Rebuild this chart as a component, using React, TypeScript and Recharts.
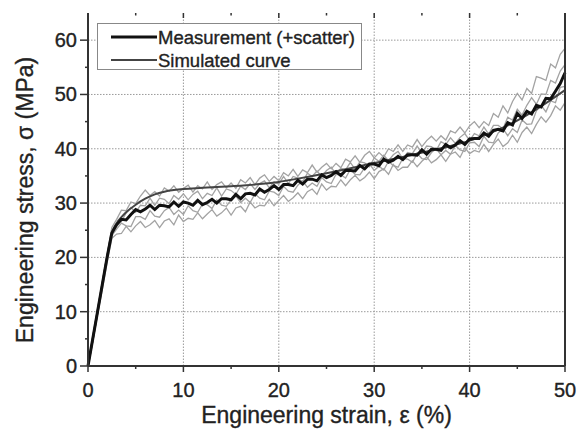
import React from 'react';
import { LineChart, Line, XAxis, YAxis, ReferenceLine } from 'recharts';

const strain = [0, 0.5, 1, 1.5, 2, 2.5, 3, 3.5, 4, 4.5, 5, 5.5, 6, 6.5, 7, 7.5, 8, 8.5, 9, 9.5, 10, 10.5, 11, 11.5, 12, 12.5, 13, 13.5, 14, 14.5, 15, 15.5, 16, 16.5, 17, 17.5, 18, 18.5, 19, 19.5, 20, 20.5, 21, 21.5, 22, 22.5, 23, 23.5, 24, 24.5, 25, 25.5, 26, 26.5, 27, 27.5, 28, 28.5, 29, 29.5, 30, 30.5, 31, 31.5, 32, 32.5, 33, 33.5, 34, 34.5, 35, 35.5, 36, 36.5, 37, 37.5, 38, 38.5, 39, 39.5, 40, 40.5, 41, 41.5, 42, 42.5, 43, 43.5, 44, 44.5, 45, 45.5, 46, 46.5, 47, 47.5, 48, 48.5, 49, 49.5, 50];

const measurement = [0, 5, 10, 15, 20, 24.5,
  26.0, 27.0, 26.9, 27.9, 28.8, 28.4, 28.9, 29.6, 28.8, 29.6,
  29.5, 29.3, 30.2, 29.4, 30.2, 30.0, 29.6, 30.5, 29.7, 30.1,
  30.7, 30.0, 30.8, 30.8, 30.6, 31.6, 30.8, 31.7, 31.8, 31.5,
  32.6, 32.0, 32.5, 33.2, 32.5, 33.4, 33.4, 33.2, 34.2, 33.5,
  34.4, 34.4, 34.1, 35.2, 34.7, 35.1, 35.8, 35.1, 36.0, 36.0,
  35.9, 36.9, 36.3, 37.2, 37.2, 36.9, 38.1, 37.5, 37.9, 38.6,
  38.0, 38.9, 38.9, 38.8, 39.8, 39.0, 39.9, 39.9, 39.7, 40.8,
  40.2, 40.7, 41.5, 40.8, 41.8, 41.9, 41.9, 42.9, 42.3, 43.4,
  43.6, 43.3, 44.8, 44.4, 46.5, 45.6, 46.9, 46.4, 48.0, 47.7,
  49.3, 49.2, 50.6, 52.0, 54.0];

const scatter1 = [0, 5.5, 10.5, 15.5, 20.5, 25.5,
  27.0, 28.7, 28.6, 30.2, 29.9, 31.3, 32.4, 31.4, 32.1, 31.3,
  32.8, 32.2, 33.2, 32.0, 32.7, 33.3, 32.0, 33.2, 32.6, 33.9,
  32.5, 33.4, 33.9, 32.8, 33.7, 32.7, 34.3, 33.7, 34.7, 33.4,
  34.6, 35.2, 34.0, 34.9, 34.1, 35.6, 35.0, 36.2, 34.9, 36.1,
  35.6, 37.0, 35.7, 36.6, 37.3, 36.3, 37.3, 36.5, 38.1, 37.6,
  38.7, 37.5, 38.8, 39.5, 38.3, 39.3, 38.5, 40.0, 39.5, 40.7,
  39.5, 40.7, 40.3, 41.7, 40.4, 41.5, 42.3, 41.4, 42.4, 41.6,
  43.3, 42.9, 44.0, 42.9, 44.2, 45.0, 43.9, 45.0, 44.3, 46.5,
  45.8, 47.9, 46.6, 48.7, 50.2, 49.0, 51.1, 50.2, 53.3, 53.0,
  52.6, 55.6, 54.9, 57.4, 58.5];

const scatter2 = [0, 5, 10, 15, 20, 24.5,
  26.3, 26.6, 28.2, 29.2, 28.3, 29.6, 29.5, 30.9, 29.6, 30.9,
  30.7, 29.9, 31.4, 30.7, 31.7, 30.6, 31.6, 32.2, 30.8, 31.8,
  31.4, 32.8, 31.3, 32.6, 32.3, 31.6, 33.1, 32.5, 33.6, 32.5,
  33.6, 34.1, 32.8, 33.9, 33.5, 34.9, 33.6, 34.9, 34.6, 33.9,
  35.5, 34.9, 35.9, 34.9, 36.0, 36.6, 35.3, 36.4, 36.1, 37.5,
  36.2, 37.6, 37.4, 36.7, 38.3, 37.7, 38.8, 37.8, 38.9, 39.5,
  38.2, 39.3, 39.1, 40.5, 39.2, 40.5, 40.4, 39.7, 41.3, 40.8,
  42.0, 41.0, 42.1, 42.8, 41.5, 42.8, 42.4, 44.0, 42.7, 44.3,
  44.3, 43.7, 45.8, 45.3, 47.3, 46.2, 48.0, 49.4, 48.2, 50.1,
  50.0, 52.6, 52.1, 54.3, 55.5];

const scatter3 = [0, 4.5, 9.5, 14.5, 19.5, 24,
  25.2, 26.3, 25.8, 25.7, 27.5, 27.5, 27.0, 28.6, 27.6, 27.4,
  28.6, 29.2, 27.9, 28.7, 27.9, 29.5, 28.6, 28.3, 29.8, 29.7,
  29.0, 30.6, 29.6, 29.4, 30.6, 31.3, 30.1, 30.9, 30.1, 31.7,
  30.9, 30.6, 32.2, 32.0, 31.4, 33.1, 32.2, 32.0, 33.3, 34.1,
  32.9, 33.7, 33.1, 34.7, 33.9, 33.6, 35.3, 35.2, 34.6, 36.2,
  35.3, 35.2, 36.5, 37.2, 36.0, 36.8, 36.1, 37.7, 36.9, 36.6,
  38.2, 38.1, 37.5, 39.1, 38.2, 38.0, 39.3, 40.0, 38.9, 39.7,
  39.0, 40.6, 39.8, 39.5, 41.1, 41.2, 40.4, 42.3, 41.2, 41.1,
  42.9, 43.7, 42.4, 43.7, 43.0, 45.3, 44.5, 44.6, 47.0, 48.0,
  46.8, 48.8, 48.5, 51.3, 51.5];

const scatter4 = [0, 4.5, 9.5, 14, 19, 23.5,
  24.3, 24.4, 25.7, 24.7, 25.8, 26.6, 25.5, 26.0, 26.8, 25.5,
  26.7, 27.1, 26.0, 27.8, 26.6, 27.2, 27.0, 28.2, 27.1, 28.0,
  28.8, 27.6, 28.2, 29.1, 27.8, 29.1, 29.4, 28.4, 30.2, 29.1,
  29.6, 29.5, 30.7, 29.5, 30.5, 31.4, 30.3, 31.0, 31.9, 30.8,
  32.1, 32.6, 31.6, 33.5, 32.4, 33.1, 33.0, 34.3, 33.2, 34.3,
  35.1, 34.1, 34.7, 35.7, 34.5, 35.8, 36.3, 35.3, 37.1, 36.0,
  36.6, 36.6, 37.8, 36.7, 37.7, 38.5, 37.4, 38.0, 38.9, 37.7,
  39.0, 39.4, 38.4, 40.2, 39.1, 39.7, 39.4, 40.8, 39.5, 40.8,
  41.8, 40.4, 41.1, 42.5, 41.2, 43.0, 44.0, 42.8, 44.5, 45.9,
  44.9, 46.1, 47.9, 47.1, 48.5];

const simStrain = [0, 1, 2, 2.5, 3, 3.5, 4, 5, 6, 7, 8, 9, 10, 12, 15, 18, 20, 22, 25, 28, 30, 32, 35, 38, 40, 42, 44, 46, 48, 50];
const simStress = [0, 10, 20, 24.5, 26.3, 27.4, 28.3, 29.7, 30.8, 31.6, 32.1, 32.4, 32.6, 32.8, 33.1, 33.5, 33.9, 34.5, 35.5, 36.6, 37.4, 38.1, 39.3, 40.5, 41.5, 42.8, 44.3, 46.2, 48.4, 50.8];

const xTicks = [0, 5, 10, 15, 20, 25, 30, 35, 40, 45, 50];
const yTicks = [0, 5, 10, 15, 20, 25, 30, 35, 40, 45, 50, 55, 60];
const topTicks = [5, 10, 15, 20, 25, 30, 35, 40, 45];
const gridX = [10, 20, 30, 40];
const gridY = [10, 20, 30, 40, 50, 60];
const scatterKeys = ['s1', 's2', 's3', 's4'];

const rows = strain.map((x, i) => ({
  x,
  m: measurement[i],
  s1: scatter1[i],
  s2: scatter2[i],
  s3: scatter3[i],
  s4: scatter4[i],
}));
const simRows = simStrain.map((x, i) => ({ x, y: simStress[i] }));

const FONT = '"Liberation Sans", Arial, sans-serif';
const TXT = '#222';
const AX = '#333';
const textStyle = { stroke: TXT, strokeWidth: 0.35 };

const BottomTick = (p: any) => {
  const { x, y, payload } = p;
  const major = payload.value % 10 === 0;
  return (
    <g>
      <line x1={x} x2={x} y1={y} y2={y + (major ? 6 : 3)} stroke={AX} strokeWidth={1.5} />
      {major && (
        <text x={x} y={y + 31} textAnchor="middle" fontSize={20} fill={TXT} fontFamily={FONT} style={textStyle}>
          {payload.value}
        </text>
      )}
    </g>
  );
};

const LeftTick = (p: any) => {
  const { x, y, payload } = p;
  const major = payload.value % 10 === 0;
  return (
    <g>
      <line x1={x - (major ? 8 : 3)} x2={x} y1={y} y2={y} stroke={AX} strokeWidth={1.5} />
      {major && (
        <text x={x - 11} y={y + 7} textAnchor="end" fontSize={20} fill={TXT} fontFamily={FONT} style={textStyle}>
          {payload.value}
        </text>
      )}
    </g>
  );
};

const RightTick = (p: any) => {
  const { x, y, payload } = p;
  const major = payload.value % 10 === 0;
  return <line x1={x - (major ? 7 : 3)} x2={x} y1={y} y2={y} stroke={AX} strokeWidth={1.5} />;
};

const TopTick = (p: any) => {
  const { x, y, payload } = p;
  const major = payload.value % 10 === 0;
  return <line x1={x} x2={x} y1={y} y2={y + (major ? 5 : 2.5)} stroke={AX} strokeWidth={1.5} />;
};

const YTitle = () => (
  <text
    x={25}
    y={200}
    transform="rotate(-90 25 200)"
    textAnchor="middle"
    dominantBaseline="central"
    fontSize={23}
    fill={TXT}
    fontFamily={FONT}
    style={textStyle}
  >
    Engineering stress, σ (MPa)
  </text>
);

const XTitle = () => (
  <text x={326.5} y={423} textAnchor="middle" fontSize={23} fill={TXT} fontFamily={FONT} style={textStyle}>
    Engineering strain, ε (%)
  </text>
);

export default function App() {
  return (
    <div style={{ position: 'absolute', left: 0, top: 0, width: 578, height: 432, background: '#fff', fontFamily: FONT }}>
      <LineChart width={578} height={432} data={rows} margin={{ top: 0, right: 0, left: 0, bottom: 0 }}>
        <XAxis
          xAxisId="b"
          dataKey="x"
          type="number"
          domain={[0, 50]}
          ticks={xTicks}
          height={66}
          tickSize={0}
          tickMargin={0}
          tickLine={false}
          tick={<BottomTick />}
          axisLine={{ stroke: AX, strokeWidth: 2 }}
          interval={0}
          label={<XTitle />}
        />
        <XAxis
          xAxisId="t"
          orientation="top"
          dataKey="x"
          type="number"
          domain={[0, 50]}
          ticks={topTicks}
          height={13}
          tickSize={0}
          tickMargin={0}
          tickLine={false}
          tick={<TopTick />}
          axisLine={false}
          interval={0}
        />
        <YAxis
          yAxisId="l"
          type="number"
          domain={[0, 65]}
          ticks={yTicks}
          width={88}
          tickSize={0}
          tickMargin={0}
          tickLine={false}
          tick={<LeftTick />}
          axisLine={{ stroke: AX, strokeWidth: 2 }}
          interval={0}
          label={<YTitle />}
        />
        <YAxis
          yAxisId="r"
          orientation="right"
          type="number"
          domain={[0, 65]}
          ticks={yTicks}
          width={13}
          tickSize={0}
          tickMargin={0}
          tickLine={false}
          tick={<RightTick />}
          axisLine={{ stroke: AX, strokeWidth: 2 }}
          interval={0}
        />
        {gridX.map((g) => (
          <ReferenceLine key={'gx' + g} xAxisId="b" yAxisId="l" x={g} stroke="#9a9a9a" strokeDasharray="1.5 1.5" strokeWidth={1} />
        ))}
        {gridY.map((g) => (
          <ReferenceLine key={'gy' + g} xAxisId="b" yAxisId="l" y={g} stroke="#9a9a9a" strokeDasharray="1.5 1.5" strokeWidth={1} />
        ))}
        {scatterKeys.map((k) => (
          <Line
            key={k}
            xAxisId="b"
            yAxisId="l"
            dataKey={k}
            type="linear"
            stroke="#a3a3a3"
            strokeWidth={1.3}
            dot={false}
            isAnimationActive={false}
          />
        ))}
        <Line
          xAxisId="b"
          yAxisId="l"
          data={simRows}
          dataKey="y"
          type="monotone"
          stroke="#444"
          strokeWidth={2}
          dot={false}
          isAnimationActive={false}
        />
        <Line
          xAxisId="b"
          yAxisId="l"
          dataKey="m"
          type="linear"
          stroke="#111"
          strokeWidth={3}
          dot={false}
          isAnimationActive={false}
        />
      </LineChart>
      <div
        style={{
          position: 'absolute',
          left: 97,
          top: 23,
          width: 265,
          height: 47,
          border: '1px solid #888',
          background: '#fff',
          boxSizing: 'border-box',
        }}
      >
        <svg width={265} height={47} style={{ position: 'absolute', left: -1, top: -1 }}>
          <line x1={14} x2={60} y1={14} y2={14} stroke="#111" strokeWidth={3} />
          <line x1={14} x2={60} y1={37} y2={37} stroke="#444" strokeWidth={2} />
          <text x={61} y={20.5} fontSize={18.5} fill={TXT} fontFamily={FONT} style={textStyle}>Measurement (+scatter)</text>
          <text x={61} y={43.5} fontSize={18.5} fill={TXT} fontFamily={FONT} style={textStyle}>Simulated curve</text>
        </svg>
      </div>
    </div>
  );
}
